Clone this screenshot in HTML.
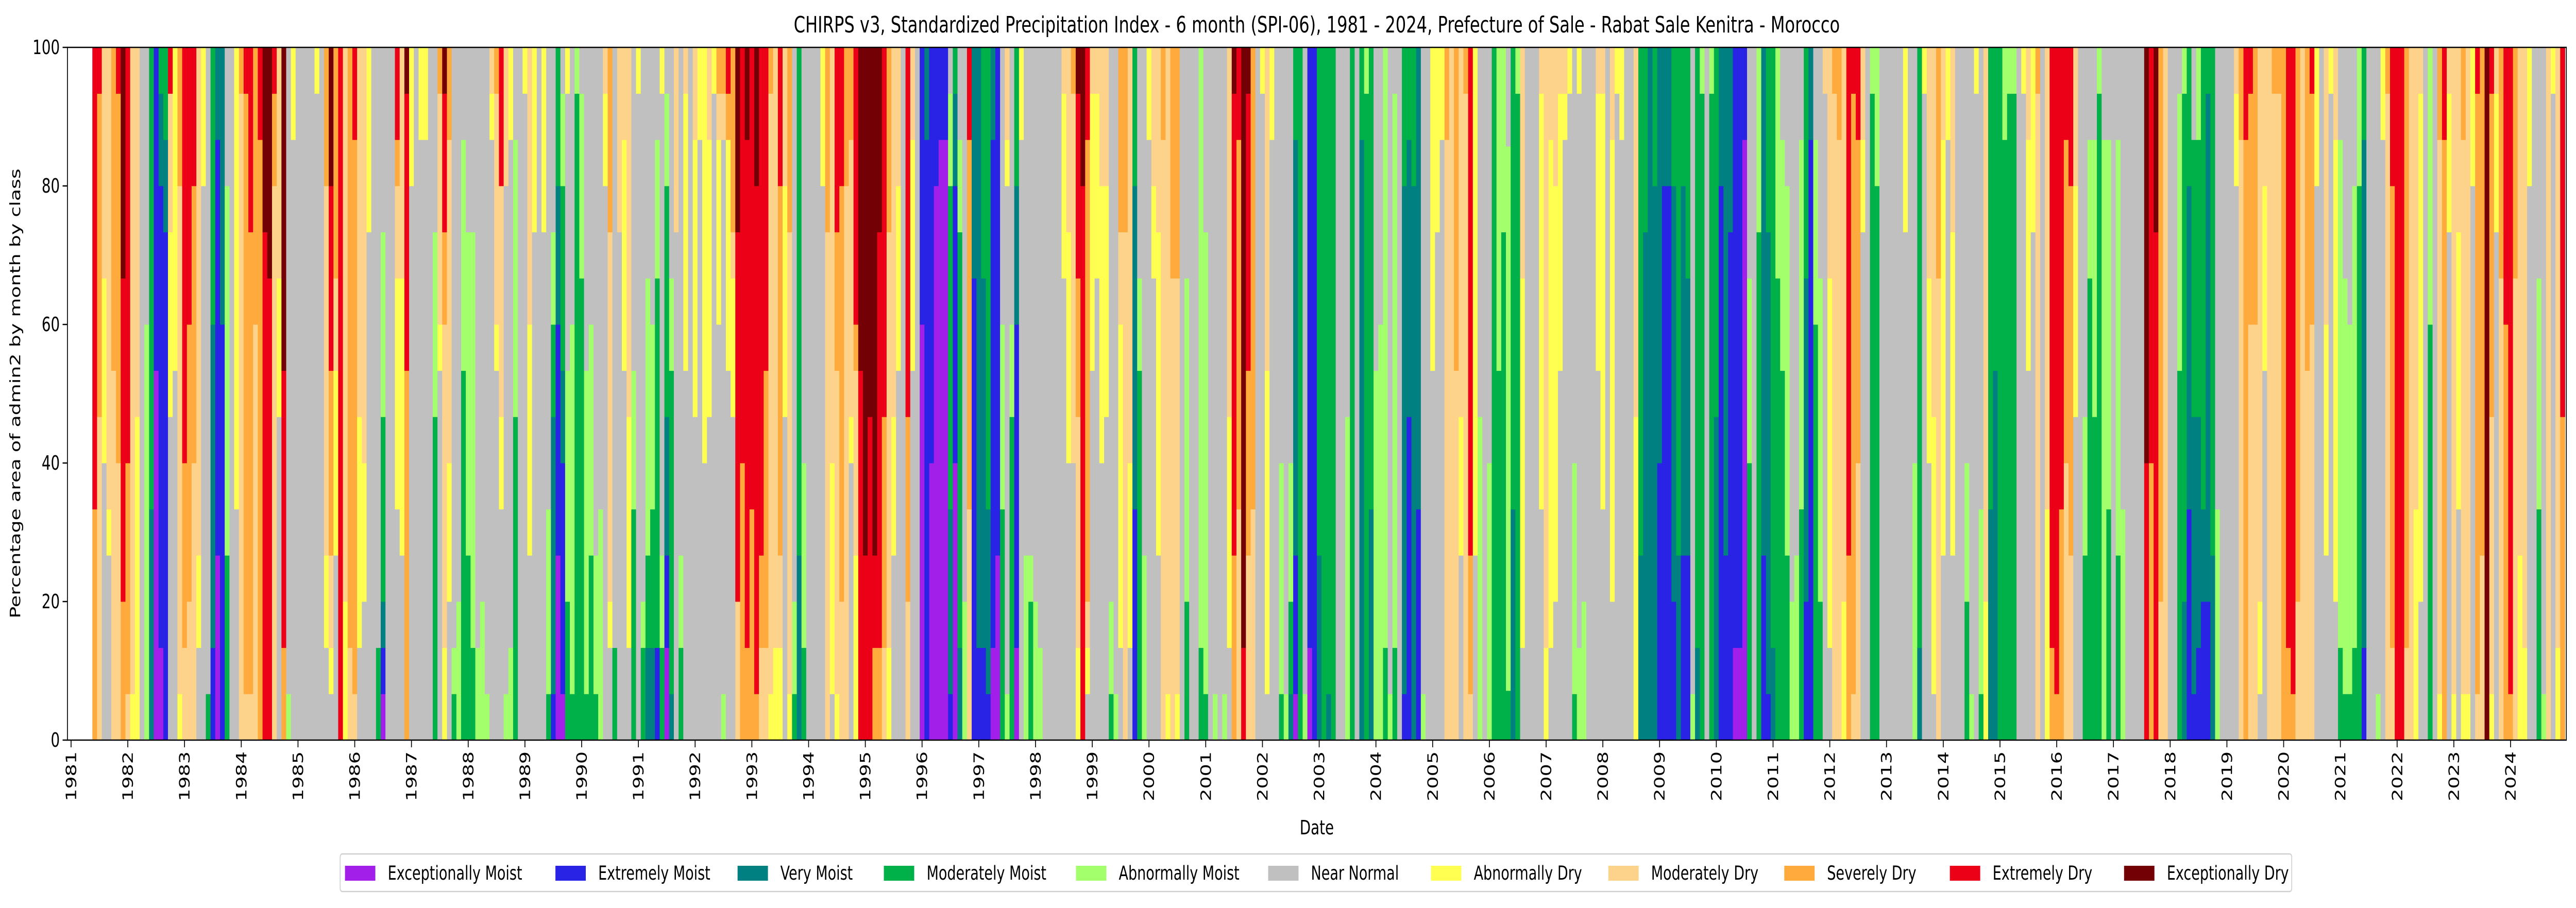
<!DOCTYPE html>
<html><head><meta charset="utf-8"><title>CHIRPS SPI-06 Sale</title>
<style>
html,body{margin:0;padding:0;background:#fff;overflow:hidden;width:100%;height:100%;}
svg{display:block;font-family:"DejaVu Sans","Liberation Sans",sans-serif;overflow:hidden;width:100vw;height:100vh;}
</style></head>
<body>
<svg id="chart" viewBox="0 0 7467 1763" preserveAspectRatio="none" xmlns="http://www.w3.org/2000/svg">
<rect x="0" y="0" width="7467" height="1763" fill="#fff"/>
<text x="3817" y="63" font-size="44" text-anchor="middle">CHIRPS v3, Standardized Precipitation Index - 6 month (SPI-06), 1981 - 2024, Prefecture of Sale - Rabat Sale Kenitra - Morocco</text>
<g id="bars"></g>
<g id="axes"></g>
<text x="3817" y="1620" font-size="38" text-anchor="middle">Date</text>
<text transform="translate(57,764) rotate(-90)" font-size="38" text-anchor="middle">Percentage area of admin2 by month by class</text>
<g id="legend"></g>
</svg>
<script>
// ---- data ----
const classNames = ["Exceptionally Moist","Extremely Moist","Very Moist","Moderately Moist","Abnormally Moist","Near Normal","Abnormally Dry","Moderately Dry","Severely Dry","Extremely Dry","Exceptionally Dry"];
const classCodes = ["a","b","c","d","e","n","f","g","h","i","j"];
const classColors = ["#a21fea","#2923e6","#008080","#00b14a","#a3ff6b","#c0c0c0","#ffff52","#fdd38c","#ffaa3c","#ec0018","#730005"];
const firstMonthIndex = 5; // June 1981 (months since Jan 1981)
const yearTicks = [1981,1982,1983,1984,1985,1986,1987,1988,1989,1990,1991,1992,1993,1994,1995,1996,1997,1998,1999,2000,2001,2002,2003,2004,2005,2006,2007,2008,2009,2010,2011,2012,2013,2014,2015,2016,2017,2018,2019,2020,2021,2022,2023,2024];
const yTicks = [0,20,40,60,80,100];
// monthly composition: class letter + count out of 15
const monthCodes = (
"i10h5 i1h7g7 g5f4n6 g10f1n4 h7g8 i1h8g6 j5i7h3 i9h5g1 g14f1 g8f7 n15 n6e9 d10c5 b7a8 d1c2b10a2 d2c2b11 i1g3f4n7 f7n8 h3g11f1 i9h4g2 i6h6g3 i3h6g6 g11f2n2 f3n12 n14d1 d6c7b2 c2b9a4 c6b9 n3e8d4 n15 f10n5 h1g14 i1h13g1 i4h10g1 h6g9 i2h13 j4i11 j5i10 i1h2g12 g5f3n7 j7i6h2 n14e1 f2n13 n15 n15 n15 n15 f1n14 n15 h3g8f2n2 j3i4h4g2f1n1 h5g2f4n4 i15 g12f3 h13g2 i2h12g1 g8f5n2 g9f3n3 f4n11 n15 n13d2 n4e4d4c1b1a1 n15 n15 i2h1g2f5n5 " +
"g5f6n4 j1i6h8 f3n12 n15 f2n13 f2n13 n15 n4e4d7 h1g5f1n8 j1i3h2g7f2 h2g7f3n3 n13e1d1 n12e3 n2e5d8 n4e7d4 n4e9d2 n13e2 n12e3 n14e1 g1f1n13 h1g5f1n8 i3g5f2n5 g3n11e1 f2n11e2 n2e6d7 n15 f1n14 g6f5n4 f4n11 n15 f4n11 n10e4d1 n4e2d2c6b1 d3c3b5a4 n1e2d4c2b5a1 f1n6e5d3 n6e8d1 e1d14 n1e4d10 n7e7d1 n6e5d4 n11e3d1 n10e5 g1f2n12 h4g8f1n2 n13d2 g4n11 g2f5n8 g8f5n2 n7e3d5 f1n14 n12e1d2 n5e6d2c2 n6e4d3c2 n2e3d8b2 f1n10e2d2 n1e2d5c3b2a2 n5e2d7c1 g4n11 n11e2d2 g1f6n8 n15 g2f6n7 f2n13 f9n6 g2f6n7 " +
"f1n14 h1g1f4n9 h1g1n12e1 i1h1f5n8 h4g1f3n7 j4i8g3 i9h6 j2i11h2 i10h5 j3i11h1 i11h2g2 i7h6g2 h1g13f1 g13f2 i3h8g2f2 g3f5n7 h4g10f1 n12e2d1 d11c4 n9e4d2 n15 n15 n15 f3n12 h4g11 g9f5n1 i4h3g7f1 i3h9g3 h3g12 h2g6f1n6 i6h1g4f4 j7i8 j11i4 j8i7 j11i2h2 j4i9h2 i8h5g2 h4g9f2 g8f3n4 g3f4n8 n15 i8h4g3 g2f5n8 n15 b6a9 c2b13 b9a6 b3a12 b2a13 b2a13 n1e2d7c4b1 d1c2b6a6 n2e2d9c2 n12e3 i2h8g5 c5b10 c13b2 d5c8b2 d10c4b1 c2b11a2 b11a4 n6e4d5 g2f1n11e1 n6e2d7 d3c3b7a2 f2n13 " +
"n11e4 n11e1d3 n12e3 n13e2 n15 n15 n15 n15 g1f4n10 g4f5n6 h1g8n6 j1i4h3g5f2 j3i12 i2h10g1f1n1 g1f6n8 g1f4n10 g3f6n6 g3f5n7 n12e2d1 n14e1 h4g2f7n2 h4g11 g9f4n2 d3c7b5 n5e2d8 n11e4 f2n13 g3f2n10 g4f7n4 h2g13 g14f1 h5g10 h5g9f1 n15 n5e7d3 n15 n15 e13d2 n4e10d1 n15 n14e1 n15 n14e1 g8f5n2 j1i10h4 i2h8g5 j13i2 j1i6h4g4 h10g5 n15 f1n14 g7f7n1 f2n13 n15 n9e5d1 n14e1 n9e3d2c1 d2c9b3a1 d15 n14e1 b13a2 b15 d11c4 d15 d14c1 d15 " +
"n15 n15 n8e7 d15 n15 d2c13 e1d14 d10c5 n7e8 n6e9 e13d2 n14e1 n1e12d2 n15 d3c11b1 d2c6b7 d3c12 c10b5 n14e1 n15 f7n8 f4n11 f2n13 h2g13 g15 h7g8 g8f3n4 h1g14 i11h3g1 f11n4 n8e7 n15 n9e6 d15 e7d8 e4d11 n2e11d1 d10c5 e1d14 g5f8n2 n15 n15 n15 g1f9n5 g13f2 g2f11n2 g3f9n3 g1f6n8 g1f1n13 f1n14 n9e5d1 f1n12e2 n12e3 n15 n15 g1f6n8 g1f9n5 n15 g2f10n3 f1n14 f2n13 n15 n15 g8f7 d11c4 " +
"d4c11 c15 d3c12 c9b6 c3b12 c3b12 d3c9b3 d11c4 d3c8b4 d5c6b4 n14e1 d13c2 e1d14 n15 e1d14 d8c7 c3b12 c11b4 c4b11 b13a2 b13a2 b2a13 n5e4d6 n15 e4d11 c11b4 d4c10b1 d13c2 e5d10 n2e5d8 n3e8d4 n12e3 n11e4 n2e8d5 d5c7b3 c2b13 n2e4d9 n5e7d3 g1n14 g5f8n2 h1g14 h2g13 g12f3 i11h4 i1h13g1 i2h7g6 g2f2n11 n15 e1d14 e3d12 n15 n15 n15 n15 n15 f4n11 n15 n9e6 d13c2 f1n14 g5f4n6 g8f6n1 h5g10 g2f9n4 f2n13 g4f7n4 " +
"n15 n15 n9e3d3 n14e1 f1n14 n10e4d1 g12f3 d10c5 d7c8 d15 e2d13 e1d14 e1d14 n15 f1n14 g2f5n8 f4n11 h1g14 n15 g10f5 i13h2 i14h1 i10h5 i2h7g6 i3h8g4 g3f5n7 n15 n8e3d4 n2e3d10 n2e6d7 e1d14 n2e13 n2e8d5 n15 n2e9d4 n10e5 n15 n15 n15 n15 j9i6 i9h6 j4i11 h12g3 g15 n15 n15 n1e6d8 e1d11c3 d3c7b5 n2d6c6b1 e2d6c5b2 d10c2b3 d1c11b3 d11c4 n10e5 n15 n15 n15 g1f2n12 h2g13 i2h13 i1h5g9 h6g9 g12f2n1 g3f4n8 " +
"g15 h1g14 h1g14 h15 i13h2 i14h1 h12g3 g15 h7g8 i1h5g9 f3n12 n15 g6f5n4 f1n14 g2f10n3 n2e11d2 n5e9d1 n6e8d1 n3e10d2 e3d12 d2c11b2 n15 n15 n14e1 f2n13 h1g14 i3h10g2 i15 i15 h13g2 g15 g10f5 g1f11n3 n15 e6d9 n15 h2g12f1 i2h13 g1f3n11 g14f1 g4f6n5 h2g12f1 g14f1 f3n12 i1h13g1 h11g4 j15 i1h7g6f1 g1f3n11 h5g10 i6h9 i14h1 h5g10 g11f4 g13f2 f3n12 n15 n5e5d5 n14e1 g15 f1n14 g13f2 i8h7"
).trim().split(/\s+/);

// per-class percentage arrays derived from the codes
const seriesPct = classCodes.map(() => []);
monthCodes.forEach(code => {
  const counts = {};
  let total = 0;
  code.replace(/([a-z])(\d+)/g, (m, c, n) => { counts[c] = (counts[c] || 0) + (+n); total += (+n); return m; });
  classCodes.forEach((c, k) => seriesPct[k].push(total ? (counts[c] || 0) * 100 / total : 0));
});

// ---- axes ----
const NS = "http://www.w3.org/2000/svg";
const plotL = 195.5, plotR = 7439, plotT = 92, plotB = 1437;
const x0 = 206, monthW = 164.45 / 12;
function xMonth(m) { return x0 + m * monthW; }
function yVal(v) { return plotB - (v / 100) * (plotB - plotT); }
function mk(tag, attrs, parent) {
  const el = document.createElementNS(NS, tag);
  for (const k in attrs) el.setAttribute(k, attrs[k]);
  parent.appendChild(el);
  return el;
}

const barsG = document.getElementById("bars");
for (let i = 0; i < monthCodes.length; i++) {
  const m = firstMonthIndex + i;
  const xl = xMonth(m) - monthW / 2;
  const w = Math.min(monthW + 0.6, plotR - xl);
  let cum = 0;
  for (let k = 0; k < classCodes.length; k++) {
    const v = seriesPct[k][i];
    if (v <= 0) continue;
    const yTop = yVal(cum + v), yBot = yVal(cum);
    const r = mk("rect", {x: xl.toFixed(2), y: yTop.toFixed(2), width: w.toFixed(2), height: (yBot - yTop + 0.4).toFixed(2), fill: classColors[k]}, barsG);
    
    
    cum += v;
  }
}

const axG = document.getElementById("axes");
const fr = mk("rect", {x: plotL, y: plotT, width: plotR - plotL, height: plotB - plotT, fill: "none", stroke: "#000", "stroke-width": 2.5}, axG);


yTicks.forEach(v => {
  const y = yVal(v);
  const t = mk("line", {x1: plotL - 14, x2: plotL, y1: y, y2: y, stroke: "#000", "stroke-width": 2.5}, axG);
  
  
  const lb = mk("text", {x: plotL - 22, y: y + 13, "font-size": 38, "text-anchor": "end"}, axG);
  lb.textContent = String(v);
  
  
});
yearTicks.forEach(yr => {
  const x = xMonth((yr - 1981) * 12);
  const t = mk("line", {x1: x, x2: x, y1: plotB, y2: plotB + 14, stroke: "#000", "stroke-width": 2.5}, axG);
  
  
  const lb = mk("text", {transform: "translate(" + (x + 13) + "," + (plotB + 22) + ") rotate(-90)", "font-size": 38, "text-anchor": "end"}, axG);
  lb.textContent = String(yr);
  
  
});

// ---- legend ----
const legG = document.getElementById("legend");
const legendX = [1000, 1610, 2138, 2562, 3119, 3676, 4148, 4662, 5172, 5652, 6157];
const box = mk("rect", {x: 986, y: 1658, width: 5657, height: 73, rx: 6, fill: "#fff", stroke: "#d0d0d0", "stroke-width": 2.5}, legG);


classNames.forEach((nm, k) => {
  const g = mk("g", {}, legG);
  
  
  mk("rect", {x: legendX[k], y: 1681, width: 88, height: 29, fill: classColors[k]}, g);
  const tx = mk("text", {x: legendX[k] + 124, y: 1708, "font-size": 37}, g);
  tx.textContent = nm;
});

// ---- partially compensate viewport stretching for text ----
(function fixText() {
  const svg = document.getElementById("chart");
  const sx = svg.clientWidth / 7467, sy = svg.clientHeight / 1763;
  if (!sx || !sy) return;
  const k = (sy / sx) * 0.73;
  if (Math.abs(k - 1) < 0.01) return;
  svg.querySelectorAll("text").forEach(t => {
    let bb;
    try { bb = t.getBBox(); } catch (e) { return; }
    let ax, ay;
    const anchor = t.getAttribute("text-anchor") || "start";
    const fx = anchor === "middle" ? 0.5 : (anchor === "end" ? 1 : 0);
    ax = bb.x + bb.width * fx; ay = bb.y + bb.height / 2;
    const ctm = t.transform && t.transform.baseVal.consolidate();
    if (ctm) {
      const m = ctm.matrix;
      const px = m.a * ax + m.c * ay + m.e, py = m.b * ax + m.d * ay + m.f;
      ax = px; ay = py;
    }
    const g = document.createElementNS(NS, "g");
    g.setAttribute("transform", "translate(" + ax + "," + ay + ") scale(" + k + ",1) translate(" + (-ax) + "," + (-ay) + ")");
    t.parentNode.insertBefore(g, t);
    g.appendChild(t);
  });
})();
</script>
</body></html>
